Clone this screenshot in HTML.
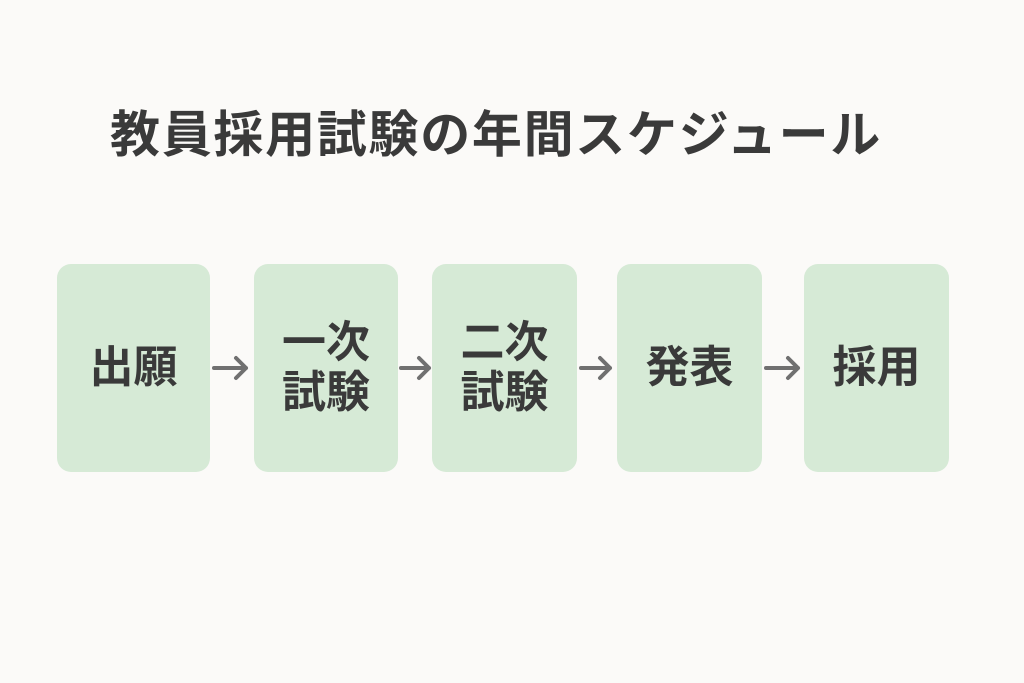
<!DOCTYPE html>
<html><head><meta charset="utf-8"><style>
html,body{margin:0;padding:0;}
body{width:1024px;height:683px;background:#fbfaf8;position:relative;overflow:hidden;font-family:"Liberation Sans","Noto Sans CJK JP",sans-serif;color:#3a3a3a;}
.t{position:absolute;left:110px;top:104px;font-size:50px;font-weight:bold;white-space:nowrap;letter-spacing:1.7px;line-height:62px;}
.b{position:absolute;top:264px;height:208px;background:#d6ead6;border-radius:14px;display:flex;align-items:center;justify-content:center;text-align:center;font-size:44px;font-weight:bold;line-height:50px;}
svg{position:absolute;left:0;top:0;}
</style></head><body>
<div class="t">教員採用試験の年間スケジュール</div>
<div class="b" style="left:57px;width:153px;">出願</div>
<div class="b" style="left:254px;width:144px;">一次<br>試験</div>
<div class="b" style="left:432px;width:145px;">二次<br>試験</div>
<div class="b" style="left:617px;width:145px;">発表</div>
<div class="b" style="left:804px;width:145px;">採用</div>
<svg width="1024" height="683" fill="none" stroke="#707070" stroke-width="4" stroke-linecap="round" stroke-linejoin="round">
<path d="M214 368H246M236 358L246 368L236 378"/>
<path d="M401 368H429M419 358L429 368L419 378"/>
<path d="M581 368H610M600 358L610 368L600 378"/>
<path d="M766 368H798M788 358L798 368L788 378"/>
</svg>
</body></html>
